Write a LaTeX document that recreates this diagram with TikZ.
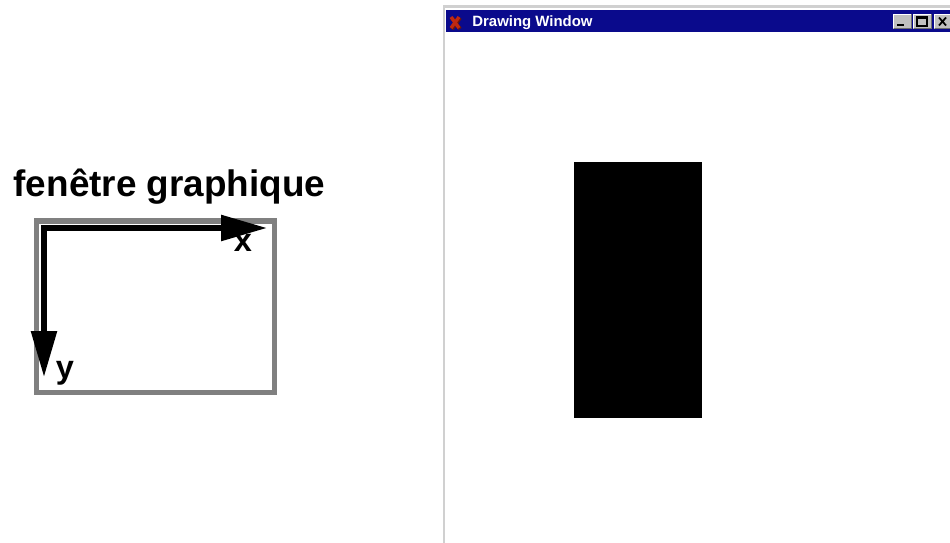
\documentclass[tikz,border=0pt]{standalone}
\usepackage{fontspec}
\setmainfont{Liberation Sans}
\usepackage{tikz}
\usetikzlibrary{arrows.meta, positioning}
\definecolor{cadregris}{HTML}{808080}
\definecolor{bordclair}{HTML}{D0D0D0}
\definecolor{barretitre}{HTML}{0A0A8C}
\definecolor{boutonfond}{HTML}{C0C0C0}
\definecolor{ombre}{HTML}{6E6E6E}
\definecolor{rougeicone}{HTML}{C02810}
\tikzset{
  cadre/.style={draw=cadregris, line width=3.4pt},
  axe/.style={line width=3.2pt, shorten <=-1.6pt,
    -{Triangle[length=9.2mm, width=5mm]}},
  titre/.style={font=\fontsize{21}{25}\selectfont\bfseries, inner sep=0pt,
    anchor=base},
  etiquette/.style={font=\fontsize{18.5}{22}\selectfont\bfseries, inner sep=0pt,
    anchor=base},
  bordure/.style={draw=bordclair, line width=1.2pt},
  barre/.style={fill=barretitre},
  bouton/.style={fill=boutonfond},
  nomfenetre/.style={font=\fontsize{8.5}{10}\selectfont\bfseries, text=white,
    inner sep=0pt, anchor=base west},
  forme/.style={fill=black}
}

\begin{document}
\begin{tikzpicture}[x=0.02cm, y=-0.02cm]
    \useasboundingbox (0,0) rectangle (950,543);

    % Fenetre graphique (schema)
    \node[titre] (titre) at (169.5,197) {fenêtre graphique};
    \draw[cadre] (36.5,221) rectangle (274.5,392.5);
    \coordinate (origine) at (44,228);
    \coordinate (xfin) at (267,228);
    \coordinate (yfin) at (44,377);
    \draw[axe] (origine) -- (xfin);
    \draw[axe] (origine) -- (yfin);
    \node[etiquette] (labx) at (243,252) {x};
    \node[etiquette] (laby) at (65,379) {y};

    % Drawing Window
    \draw[bordure] (444,543) -- (444,6.5) -- (950,6.5);
    \fill[barre] (446,10.5) rectangle (950,32.5);
    \draw[rougeicone!55!black, line width=2.2pt] (451.8,17.8) -- (460,29)
      (460,17.8) -- (451.8,29);
    \draw[rougeicone, line width=1.9pt] (451,17) -- (459,28) (459,17) -- (451,28);
    \node[nomfenetre] (nom) at (472,27) {Drawing Window};

    % Boutons
    \foreach \xg in {893, 913, 934} {
      \fill[bouton] (\xg,14) rectangle ++(19,15);
      \draw[white, line width=0.6pt] (\xg+0.5,28.5) -- (\xg+0.5,14.5) -- (\xg+18.5,14.5);
      \draw[ombre, line width=0.6pt] (\xg+0.5,28.5) -- (\xg+18.5,28.5) -- (\xg+18.5,14.5);
    }
    \draw[line width=1.2pt] (897,25) -- (904,25);
    \draw[line width=0.6pt] (917,17) rectangle (927,26);
    \draw[line width=1.2pt] (917,17.5) -- (927,17.5);
    \draw[line width=1pt] (939,17.5) -- (946,25.5) (946,17.5) -- (939,25.5);

    % Rectangle dessine
    \fill[forme] (574,162) rectangle (702,418);
\end{tikzpicture}
\end{document}
